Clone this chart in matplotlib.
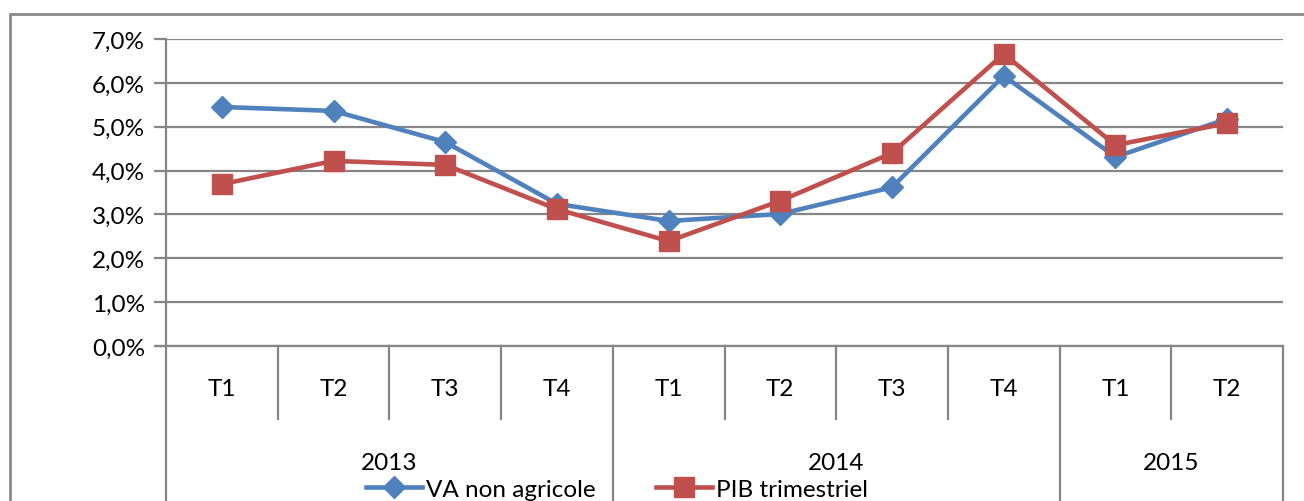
import matplotlib.pyplot as plt
from matplotlib.patches import Rectangle
import matplotlib.transforms as mtransforms

plt.rcParams['font.family'] = ['Lato', 'DejaVu Sans']

# données
annees = ['2013', '2014', '2015']
trimestres = ['T1', 'T2', 'T3', 'T4', 'T1', 'T2', 'T3', 'T4', 'T1', 'T2']
quarters_per_year = [4, 4, 2]
va_non_agricole = [5.45, 5.36, 4.65, 3.24, 2.85, 3.01, 3.62, 6.16, 4.31, 5.18]
pib_trimestriel = [3.69, 4.22, 4.13, 3.12, 2.39, 3.31, 4.40, 6.66, 4.58, 5.08]

W, H = 1304, 502
fig = plt.figure(figsize=(W / 100, H / 100), dpi=100)
left, right, top, bottom = 166, 1283, 40, 347
ax = fig.add_axes([left / W, 1 - bottom / H, (right - left) / W, (bottom - top) / H])

grid_c = '#868686'
blue = '#4F81BD'
red = '#C0504D'
fs = 17.5

x = list(range(len(trimestres)))
ax.plot(x, va_non_agricole, color=blue, lw=3.3, marker='D', ms=11.5,
        label='VA non agricole', zorder=3)
ax.plot(x, pib_trimestriel, color=red, lw=3.3, marker='s', ms=14,
        label='PIB trimestriel', zorder=4)

ax.set_xlim(-0.5, len(trimestres) - 0.5)
ax.set_ylim(0, 7)
ax.set_yticks([0, 1, 2, 3, 4, 5, 6, 7])
ax.set_yticklabels([('%.1f' % v).replace('.', ',') + '%' for v in range(8)])
ax.yaxis.grid(True, color=grid_c, lw=1.6)
ax.set_axisbelow(True)
ax.tick_params(axis='y', length=9, width=1.6, color=grid_c, labelsize=fs, pad=6)
ax.set_xticks([])
for s in ['top', 'right', 'bottom']:
    ax.spines[s].set_visible(False)
ax.spines['left'].set_color(grid_c)
ax.spines['left'].set_linewidth(1.6)

# axe des catégories à deux niveaux
trans = mtransforms.blended_transform_factory(ax.transData, ax.transAxes)
ph = bottom - top
q_depth = -73 / ph
y_depth = -(H - bottom) / ph
ax.plot([-0.5 - 9 / 111.7, len(trimestres) - 0.5], [0, 0], transform=trans,
        color=grid_c, lw=1.6, clip_on=False)
year_edges = [-0.5]
for n in quarters_per_year:
    year_edges.append(year_edges[-1] + n)
for i in range(len(trimestres) + 1):
    xe = i - 0.5
    y1 = y_depth if xe in year_edges else q_depth
    ax.plot([xe, xe], [0, y1], transform=trans, color=grid_c, lw=1.6, clip_on=False)
for i, t in enumerate(trimestres):
    ax.text(i, -43 / ph, t, transform=trans, ha='center', va='center', fontsize=fs)
for k, a in enumerate(annees):
    xc = (year_edges[k] + year_edges[k + 1]) / 2
    ax.text(xc, -116 / ph, a, transform=trans, ha='center', va='center', fontsize=fs)

# cadre extérieur
fig.patches.append(Rectangle((10 / W, -0.1), 1.2, 1 - 15 / H + 0.1, transform=fig.transFigure,
                             fill=False, edgecolor='#8a8a8a', lw=2))

fig.legend(loc='center', bbox_to_anchor=(617 / W, 1 - 490 / H), ncol=2, frameon=False,
           fontsize=fs, handlelength=2.3, columnspacing=2.5, handletextpad=0.15,
           borderaxespad=0, borderpad=0)

fig.savefig('out.png', dpi=100)
